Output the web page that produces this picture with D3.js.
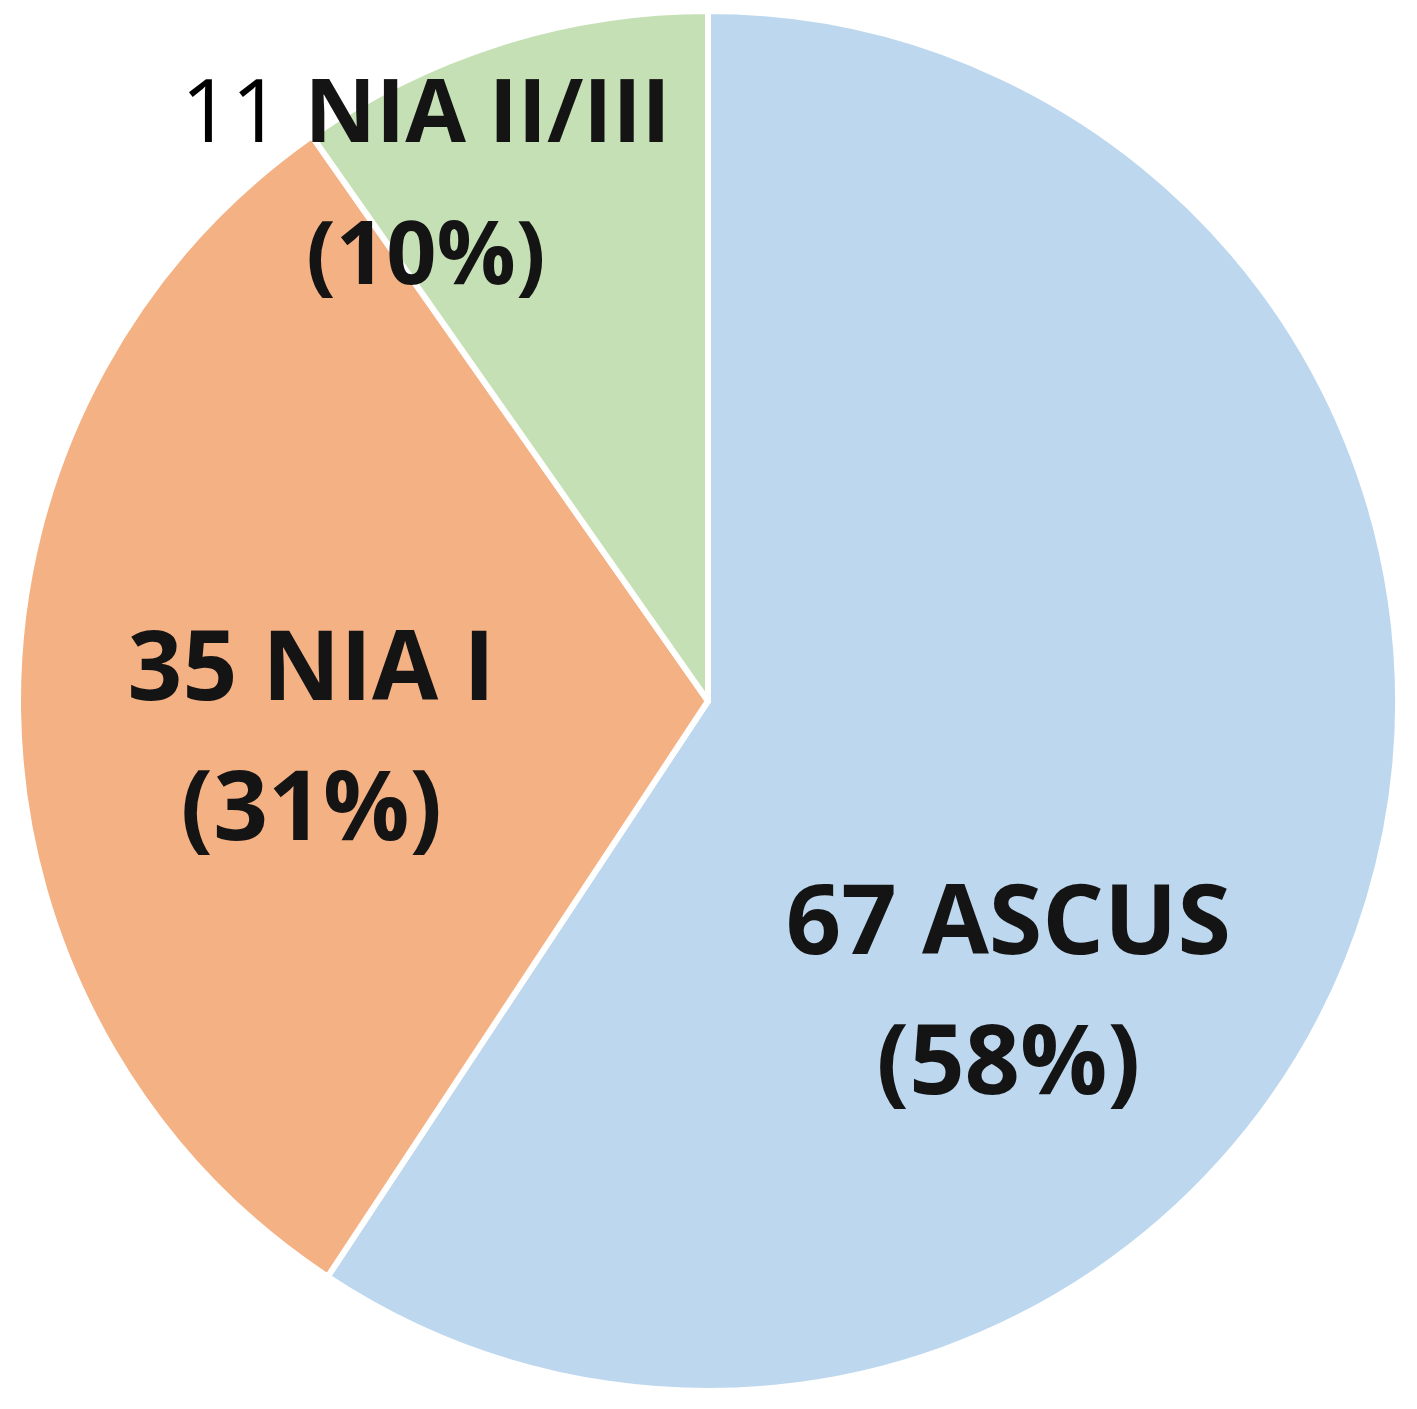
<!DOCTYPE html>
<html>
<head>
<meta charset="utf-8">
<script src="https://cdn.jsdelivr.net/npm/d3@7"></script>
<style>
  html, body { margin: 0; padding: 0; background: #ffffff; }
  svg { display: block; }
</style>
</head>
<body>
<script>
// ---- data ----
const categories = ["ASCUS", "NIA I", "NIA II/III"];
const counts = [67, 35, 11];
const percentLabels = ["58%", "31%", "10%"];
const colors = ["#BDD7EE", "#F4B183", "#C5E0B4"];

// ---- layout ----
const W = 1417, H = 1409;
const cx = 708, cy = 701, R = 690;
// label placement (polar: angle in degrees clockwise from top, radius fraction)
const labelAngle = [130.1, 270.1, 333.2];
const labelRadius = [0.569, 0.575, 0.907];
const labelSize = [97, 96, 88];
const lineGap = [140, 140, 142];

const svg = d3.select("body").append("svg")
  .attr("width", W).attr("height", H);

const g = svg.append("g").attr("transform", `translate(${cx},${cy})`);

const pie = d3.pie().sort(null).value(d => d.value).startAngle(0).endAngle(2 * Math.PI);
const data = categories.map((c, i) => ({ name: c, value: counts[i], pct: percentLabels[i], i }));
const arcs = pie(data);
const arc = d3.arc().innerRadius(0).outerRadius(R);

g.selectAll("path.slice")
  .data(arcs)
  .join("path")
  .attr("class", "slice")
  .attr("d", arc)
  .attr("fill", d => colors[d.data.i])
  .attr("stroke", "#ffffff")
  .attr("stroke-width", 6)
  .attr("stroke-linejoin", "round");

const labels = g.selectAll("g.label")
  .data(arcs)
  .join("g")
  .attr("class", "label")
  .attr("transform", d => {
    const p = d3.pointRadial(labelAngle[d.data.i] * Math.PI / 180, labelRadius[d.data.i] * R);
    return `translate(${p[0]},${p[1]})`;
  });

labels.each(function(d) {
  const i = d.data.i;
  const sel = d3.select(this);
  const t1 = sel.append("text")
    .attr("text-anchor", "middle")
    .attr("font-family", "'Open Sans', sans-serif")
    .attr("font-size", labelSize[i])
    .attr("fill", "#141414");
  if (i === 2) {
    t1.append("tspan").attr("font-weight", 400).attr("fill", "#000000").text(d.data.value + " ");
    t1.append("tspan").attr("font-weight", 700).text(d.data.name);
  } else {
    t1.attr("font-weight", 700).text(d.data.value + " " + d.data.name);
  }
  sel.append("text")
    .attr("text-anchor", "middle")
    .attr("y", lineGap[i])
    .attr("font-family", "'Open Sans', sans-serif")
    .attr("font-weight", 700)
    .attr("font-size", labelSize[i])
    .attr("fill", "#141414")
    .text("(" + d.data.pct + ")");
});
</script>
</body>
</html>
